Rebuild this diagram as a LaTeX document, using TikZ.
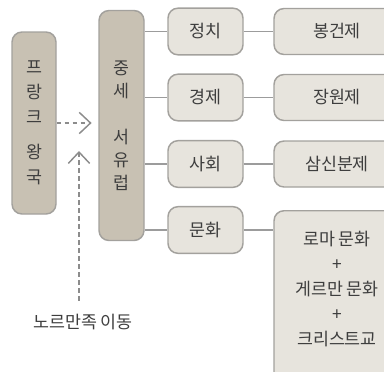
\documentclass[tikz,border=0pt]{standalone}
\usepackage{fontspec}
\newfontfamily\kofont{Noto Sans CJK KR}
\usetikzlibrary{arrows.meta}
\definecolor{boxdark}{HTML}{C8C1B3}
\definecolor{boxlight}{HTML}{E7E4DD}
\definecolor{edgegray}{HTML}{A3A19D}
\definecolor{linkgray}{HTML}{9C9C9C}
\definecolor{inkgray}{HTML}{3E3E3E}
\begin{document}
\begin{tikzpicture}[x=0.75pt,y=-0.75pt,
    every node/.style={text=inkgray, font=\kofont\fontsize{13}{18.75}\selectfont},
    darkbox/.style={draw=edgegray, line width=1.1pt, fill=boxdark, rounded corners=7.5pt},
    lightbox/.style={draw=edgegray, line width=1.1pt, fill=boxlight, rounded corners=7.5pt},
    catbox/.style={lightbox, minimum width=56.25pt, minimum height=35pt},
    sysbox/.style={lightbox, minimum width=94.5pt, minimum height=34.5pt},
    link/.style={draw=linkgray, line width=1.1pt},
    migrate/.style={draw=linkgray!90!black, line width=1.2pt, dash pattern=on 3.5pt off 2.5pt,
      -{Straight Barb[length=8.5pt,width=16pt,line width=1.1pt]}}]
  \useasboundingbox (0,0) rectangle (384,371);
  % kingdom and medieval Europe
  \node[darkbox, minimum width=33pt, minimum height=136.5pt, align=center] (frank)
    at (34,123) {프\\랑\\크\\[7.5pt]왕\\국};
  \node[darkbox, minimum width=33.75pt, minimum height=172.5pt, align=center,
    font=\kofont\fontsize{13}{17}\selectfont] (europe)
    at (121.5,125.5) {중\\세\\[18pt]서\\유\\럽};
  % spheres and systems
  \foreach \ii/\yy/\cat/\sys in {1/31.5/정치/봉건제, 2/97.5/경제/장원제, 3/164/사회/삼신분제}
   {
    \node[catbox] (cat\ii) at (205.5,\yy) {\cat};
    \node[sysbox] (sys\ii) at (337,\yy) {\sys};
    \draw[link] (europe.east |- cat\ii) -- (cat\ii);
    \draw[link] (cat\ii) -- (sys\ii);
   }
  % culture
  \node[catbox] (cat4) at (205.5,230) {문화};
  \node[lightbox, minimum width=94.5pt, minimum height=142pt, anchor=north] (culture)
    at (337,210) {};
  \node[align=center] (mix) at (337,289) {로마 문화\\+\\게르만 문화\\+\\크리스트교};
  \draw[link] (europe.east |- cat4) -- (cat4);
  \draw[link] (cat4) -- (cat4 -| culture.west);
  % migrations
  \node (norman) at (83,322) {노르만족 이동};
  \coordinate (meet) at (79,151);
  \draw[migrate, shorten >=5pt] (frank.east) -- (frank.east -| europe.west);
  \draw[migrate, shorten <=6.5pt] (meet |- norman.north) -- (meet);
\end{tikzpicture}
\end{document}
